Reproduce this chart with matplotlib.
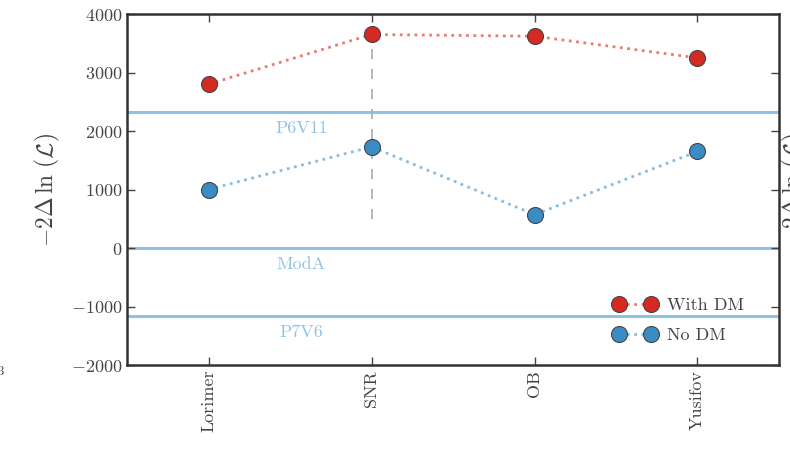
import matplotlib
matplotlib.use("Agg")
import matplotlib.pyplot as plt
import numpy as np
from matplotlib.lines import Line2D

plt.rcParams['font.family'] = 'serif'
plt.rcParams['font.serif'] = ['cmr10', 'DejaVu Serif']
plt.rcParams['mathtext.fontset'] = 'cm'
plt.rcParams['axes.formatter.use_mathtext'] = True

categories = ["Lorimer", "SNR", "OB", "Yusifov"]
with_dm = [2800, 3650, 3620, 3250]
no_dm = [1000, 1730, 570, 1650]
ref_names = ["P6V11", "ModA", "P7V6"]
ref_values = [2320, 0, -1170]
snr_span = [500, 3650]
yticks = [-2000, -1000, 0, 1000, 2000, 3000, 4000]

red = "#d42a22"
blue = "#3a8cc6"
light = "#8fc3e6"

fig = plt.figure(figsize=(7.9, 4.58), dpi=100)
ax = fig.add_axes([127/790, 1-365/458, (779-127)/790, (365-14)/458])

x = np.arange(len(categories))
for v, name in zip(ref_values, ref_names):
    ax.axhline(v, color=light, lw=2.2, zorder=1)
    ax.text(0.57, v - 140, name, color=light, fontsize=13, ha='center', va='top')

ax.vlines(x[1], snr_span[0], snr_span[1], colors="#aaaaaa", linestyles=(0, (6, 6)), lw=1.2, zorder=1)

ax.plot(x, with_dm, ls=':', lw=2, color="#ea7a72", zorder=2)
ax.plot(x, no_dm, ls=':', lw=2, color="#86bde3", zorder=2)
ax.plot(x, with_dm, ls='none', marker='o', ms=11.5, mfc=red, mec="#444444", mew=0.8, zorder=3)
ax.plot(x, no_dm, ls='none', marker='o', ms=11.5, mfc=blue, mec="#444444", mew=0.8, zorder=3)

h1 = Line2D([], [], ls=':', lw=2, color="#ea7a72", marker='o', ms=11.5, mfc=red, mec="#444444", mew=0.8)
h2 = Line2D([], [], ls=':', lw=2, color="#86bde3", marker='o', ms=11.5, mfc=blue, mec="#444444", mew=0.8)
leg = ax.legend([h1, h2], ["With DM", "No DM"], loc='lower right', numpoints=2, frameon=False,
                fontsize=13, handlelength=2.4, handletextpad=0.6, labelspacing=0.8,
                bbox_to_anchor=(0.972, 0.015))
for t in leg.get_texts():
    t.set_color("#444444")

ax.set_xlim(-0.5, 3.5)
ax.set_ylim(-2000, 4000)
ax.set_yticks(yticks)
ax.set_xticks(x)
ax.set_xticklabels(categories, rotation=90, fontsize=13, color="#444444")
ax.tick_params(axis='y', labelsize=13, labelcolor="#444444")
ax.tick_params(direction='in', top=True, right=True, length=6, width=1, color="#444444")
for s in ax.spines.values():
    s.set_linewidth(1.8)
    s.set_color("#333333")

ax.set_ylabel(r'$-2\Delta\,\ln\,(\mathcal{L})$', fontsize=17, color="#444444", labelpad=6)

fig.text(-0.004, 1-375/458, r'$^3$', fontsize=13, color="#444444", ha='left', va='center')
fig.text(780/790, 1-190/458, r'$-2\Delta\,\ln\,(\mathcal{L})$', fontsize=17, color="#444444",
         rotation=90, ha='left', va='center')

fig.savefig("out.png", dpi=100)
